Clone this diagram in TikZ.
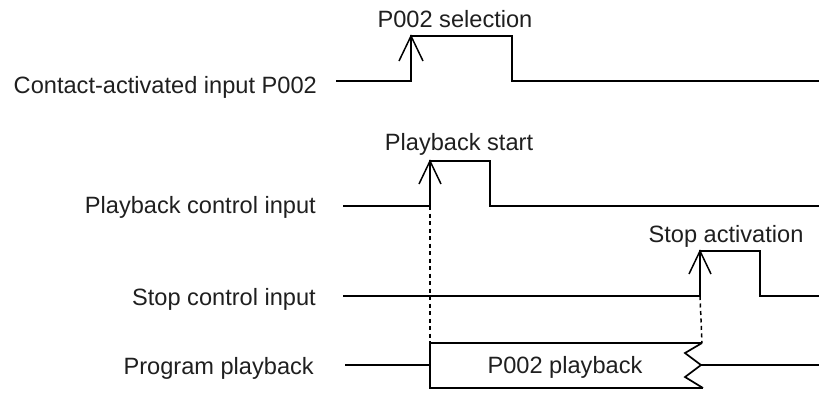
\documentclass[tikz,border=0pt]{standalone}
\usepackage{fontspec}
\setmainfont{Liberation Sans}
\usetikzlibrary{calc}
\begin{document}
\begin{tikzpicture}[x=1pt,y=-1pt,
  sig/.style={line width=1.7pt, line join=miter, black},
  arr/.style={line width=1.5pt, black},
  dotl/.style={line width=1.5pt, dash pattern=on 4pt off 3.5pt, black},
  lbl/.style={font=\fontsize{23.6}{28}\selectfont, text=black!88, inner sep=0pt},
]
\useasboundingbox (0,0) rectangle (819,392);
% signal names
\node[lbl, anchor=base east] (n1) at (317,93) {Contact-activated input P002};
\node[lbl, anchor=base east] (n2) at (316,213) {Playback control input};
\node[lbl, anchor=base east] (n3) at (316,305) {Stop control input};
\node[lbl, anchor=base east] (n4) at (314,374) {Program playback};
% waveform points
\coordinate (a0) at (336,81); \coordinate (a1) at (411,81); \coordinate (a2) at (411,36);
\coordinate (a3) at (512,36); \coordinate (a4) at (512,81); \coordinate (a5) at (819,81);
\coordinate (b0) at (343,206); \coordinate (b1) at (430,206); \coordinate (b2) at (430,161);
\coordinate (b3) at (490,161); \coordinate (b4) at (490,206); \coordinate (b5) at (819,206);
\coordinate (c0) at (343,296); \coordinate (c1) at (700,296); \coordinate (c2) at (700,251);
\coordinate (c3) at (760,251); \coordinate (c4) at (760,296); \coordinate (c5) at (819,296);
\draw[sig] (a0) -- (a1) -- (a2) -- (a3) -- (a4) -- (a5);
\draw[sig] (b0) -- (b1) -- (b2) -- (b3) -- (b4) -- (b5);
\draw[sig] (c0) -- (c1) -- (c2) -- (c3) -- (c4) -- (c5);
% arrowheads
\draw[arr] ($(a2)+(-12,25)$) -- (a2) -- ($(a2)+(12,25)$);
\draw[arr] ($(b2)+(-11,23)$) -- (b2) -- ($(b2)+(11,23)$);
\draw[arr] ($(c2)+(-11,23)$) -- (c2) -- ($(c2)+(11,23)$);
% event labels
\node[lbl, anchor=base] (e1) at (455,27) {P002 selection};
\node[lbl, anchor=base] (e2) at (459,150) {Playback start};
\node[lbl, anchor=base] (e3) at (726,242) {Stop activation};
% program playback
\coordinate (d0) at (345,365); \coordinate (d1) at (430,365);
\coordinate (bt) at (430,343); \coordinate (bb) at (430,388);
\coordinate (z0) at (702,343); \coordinate (z1) at (685,353); \coordinate (z2) at (701,365);
\coordinate (z3) at (685,377); \coordinate (z4) at (703,388);
\coordinate (d5) at (819,365);
\draw[sig] (d0) -- (d1);
\draw[sig] (z0) -- (bt) -- (bb) -- (z4);
\draw[sig] (z0) -- (z1) -- (z2) -- (z3) -- (z4);
\draw[sig] (z2) -- (d5);
\node[lbl, anchor=base] (p) at (565,373) {P002 playback};
% dotted links
\draw[dotl] (b1) -- (bt);
\draw[dotl] (c1) -- (z0);
\end{tikzpicture}
\end{document}
